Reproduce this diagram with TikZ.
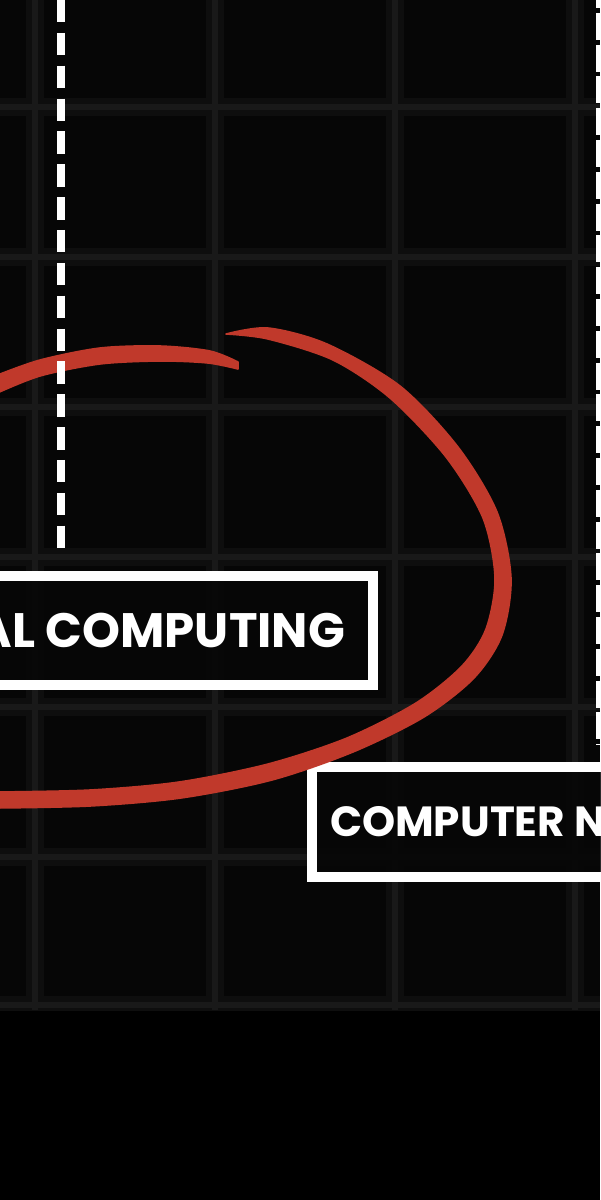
\documentclass[tikz,border=0pt]{standalone}
\usepackage{fontspec}
\setmainfont{Poppins}
\definecolor{boardblack}{HTML}{060606}
\definecolor{gridgray}{HTML}{191919}
\definecolor{gridhaze}{HTML}{0E0E0E}
\definecolor{penred}{HTML}{C0392B}

\begin{document}
\begin{tikzpicture}[x=0.02cm, y=-0.02cm,
  font=\bfseries,
  tag/.style={draw=white, line width=5.7pt, text=white, fill=boardblack,
              fill opacity=0.85, text opacity=1, minimum height=2.19cm,
              inner ysep=0pt},
  haze/.style={draw=gridhaze, line width=10pt},
  gridline/.style={draw=gridgray, line width=3.5pt},
  rail/.style={draw=white, line width=4pt, dash pattern=on 12.8pt off 5.9pt},
  thinrail/.style={draw=white, line width=2.8pt, dash pattern=on 15.3pt off 2.8pt,
                   dash phase=10.8pt},
  pen/.style={fill=penred, draw=penred, line width=0.9pt, line join=round}
]
\useasboundingbox (0,0) rectangle (600,1200);
\fill[boardblack] (0,0) rectangle (600,1010);
\fill[black] (0,1010) rectangle (600,1200);

% board grid
\begin{scope}
  \clip (0,0) rectangle (600,1010);
  \foreach \x in {35,215,395,575} {
    \draw[haze] (\x,0) -- (\x,1010);
  }
  \foreach \y in {107,257,407,557,707,857,1005} {
    \draw[haze] (0,\y) -- (600,\y);
  }
  \foreach \x in {35,215,395,575} {
    \draw[gridline] (\x,0) -- (\x,1010);
  }
  \foreach \y in {107,257,407,557,707,857,1005} {
    \draw[gridline] (0,\y) -- (600,\y);
  }
\end{scope}

% labels
\node[tag, anchor=east, inner xsep=0.56cm, font=\bfseries\fontsize{27.5}{30}\selectfont]
  (computing) at (378,630.5) {AL COMPUTING};
\node[tag, anchor=west, inner xsep=0.36cm, font=\bfseries\fontsize{24}{28}\selectfont]
  (computer) at (307,822) {COMPUTER N};

% red circle, drawn by hand
\filldraw[pen] plot[smooth] coordinates {(226,334) (268,328) (327,344) (400,386)
    (458,447) (497,512) (511,578) (502,635) (474,678) (424,717) (353,752)
    (272,780) (181,798) (90,806) (-5,808)}
  -- plot[smooth] coordinates {(-5,792) (90,790) (179,782) (268,764)
    (347,738) (416,703) (462,666) (486,629) (495,578) (483,518) (446,457)
    (390,398) (333,360) (268,339) (226,334)} -- cycle;
\filldraw[pen] plot[smooth] coordinates {(-5,376) (40,360) (100,348) (160,346)
    (210,351) (238,362)}
  -- plot[smooth] coordinates {(238,369) (208,363) (160,361) (100,364)
    (40,376) (-5,394)} -- cycle;

% dashed rails
\coordinate (leftend) at (61,558);
\coordinate (rightend) at (598,745);
\draw[rail] (61,0) -- (leftend);
\draw[thinrail] (598,0) -- (rightend);
\end{tikzpicture}
\end{document}
